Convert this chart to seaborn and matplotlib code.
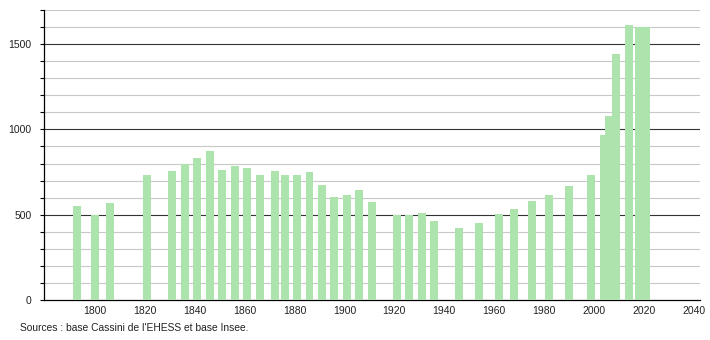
import matplotlib
matplotlib.use("Agg")
import matplotlib.pyplot as plt
import seaborn as sns
import numpy as np
import pandas as pd
from matplotlib.ticker import MultipleLocator

years = [1793, 1800, 1806, 1821, 1831, 1836, 1841, 1846, 1851, 1856, 1861, 1866,
         1872, 1876, 1881, 1886, 1891, 1896, 1901, 1906, 1911, 1921, 1926, 1931,
         1936, 1946, 1954, 1962, 1968, 1975, 1982, 1990, 1999, 2004, 2006, 2009,
         2014, 2018, 2021]
population = [553, 500, 571, 731, 759, 799, 835, 872, 765, 788, 771, 735,
              755, 735, 735, 749, 672, 604, 618, 647, 572, 500, 500, 508,
              461, 420, 453, 506, 535, 578, 616, 671, 735, 965, 1076, 1441,
              1613, 1598, 1598]
x_tick_labels = [1800, 1820, 1840, 1860, 1880, 1900, 1920, 1940, 1960, 1980, 2000, 2020, 2040]
y_tick_labels = [0, 500, 1000, 1500]
source_text = "Sources : base Cassini de l'EHESS et base Insee."

df = pd.DataFrame({"year": years, "pop": population})

sns.set_style("white")
plt.rcParams['font.family'] = ['Liberation Sans', 'DejaVu Sans']

fig = plt.figure(figsize=(7.1, 3.4), dpi=100)
ax = fig.add_axes([44 / 710, 1 - 300 / 340, (700 - 44) / 710, 290 / 340])

min_gap = np.min(np.diff(sorted(set(years))))
bar_years = 3.2
sns.barplot(data=df, x="year", y="pop", native_scale=True, ax=ax,
            color="#ade3ad", saturation=1, width=bar_years / min_gap,
            linewidth=0, edgecolor="none", zorder=3)

ax.set_xlim(1779.6, 2042.5)
ax.set_ylim(0, 1700)

# grid lines
for v in range(100, 1701, 100):
    if v % 500 == 0:
        ax.axhline(v, color="#333333", lw=0.8, zorder=1)
    else:
        ax.axhline(v, color="#c8c8c8", lw=0.8, zorder=1)

ax.set_xticks(x_tick_labels)
ax.set_xticklabels([str(t) for t in x_tick_labels])
ax.set_yticks(y_tick_labels)
ax.set_yticklabels([str(t) for t in y_tick_labels])
ax.yaxis.set_minor_locator(MultipleLocator(100))
ax.tick_params(axis="y", which="both", direction="out", length=3, width=0.8,
               color="black", labelsize=7.5, pad=6, left=True)
ax.tick_params(axis="x", length=0, labelsize=7.5, pad=4, colors="#222222")
ax.tick_params(axis="y", labelcolor="#222222")

for s in ["top", "right"]:
    ax.spines[s].set_visible(False)
ax.spines["left"].set_color("black")
ax.spines["bottom"].set_color("black")
ax.spines["left"].set_linewidth(0.9)
ax.spines["bottom"].set_linewidth(0.9)
ax.set_xlabel("")
ax.set_ylabel("")

fig.text(20 / 710, 1 - 328 / 340, source_text, fontsize=7.4, color="#222222",
         ha="left", va="center")

fig.savefig("out.png", dpi=100)
